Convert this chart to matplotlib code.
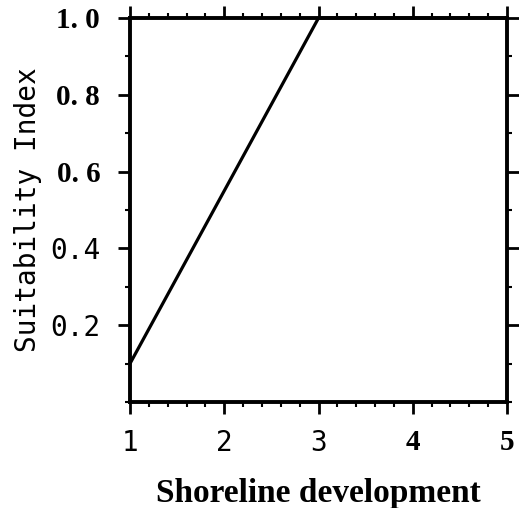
import numpy as np
import matplotlib.pyplot as plt
from matplotlib.ticker import MultipleLocator

#########
# Datos #
#########

shoreline = [1, 3, 5]
suitability = [0.1, 1.0, 1.0]

x_ticks = [1, 2, 3, 4, 5]
x_labels = ['1', '2', '3', '4', '5']
x_bold = [False, False, False, True, True]

y_ticks = [0.2, 0.4, 0.6, 0.8, 1.0]
y_labels = ['0.2', '0.4', '0. 6', '0. 8', '1. 0']
y_bold = [False, False, True, True, True]

##########
# Figura #
##########

fig = plt.figure(figsize=(5.19, 5.08), dpi=100)
ax = fig.add_axes([0.2505, 0.2087, 0.7264, 0.7559])

ax.plot(shoreline, suitability, color='black', lw=2.3, solid_capstyle='butt', clip_on=False)

ax.set_xlim(1, 5)
ax.set_ylim(0, 1.0)

for s in ax.spines.values():
    s.set_linewidth(2.8)

ax.set_xticks(x_ticks)
ax.set_yticks(y_ticks)
ax.xaxis.set_minor_locator(MultipleLocator(0.2))
ax.yaxis.set_minor_locator(MultipleLocator(0.1))
ax.tick_params(which='both', direction='out', top=True, right=True, color='black')
ax.tick_params(which='major', length=8.5, width=2)
ax.tick_params(which='minor', length=3.5, width=1.5)
ax.tick_params(axis='x', pad=11)
ax.tick_params(axis='y', pad=13)

light = dict(family='DejaVu Sans Mono', size=20)
bold = dict(family='Liberation Serif', size=21, weight='bold')

ax.set_xticklabels(x_labels)
for lab, b in zip(ax.get_xticklabels(), x_bold):
    lab.set(**(bold if b else light))
ax.set_yticklabels(y_labels)
for lab, b in zip(ax.get_yticklabels(), y_bold):
    lab.set(**(bold if b else light))

ax.set_xlabel('Shoreline development', family='Liberation Serif', size=24,
              weight='bold', labelpad=15)
ax.set_ylabel('Suitability Index', family='DejaVu Sans Mono', size=20, labelpad=6)

fig.savefig('out.png', dpi=100)
